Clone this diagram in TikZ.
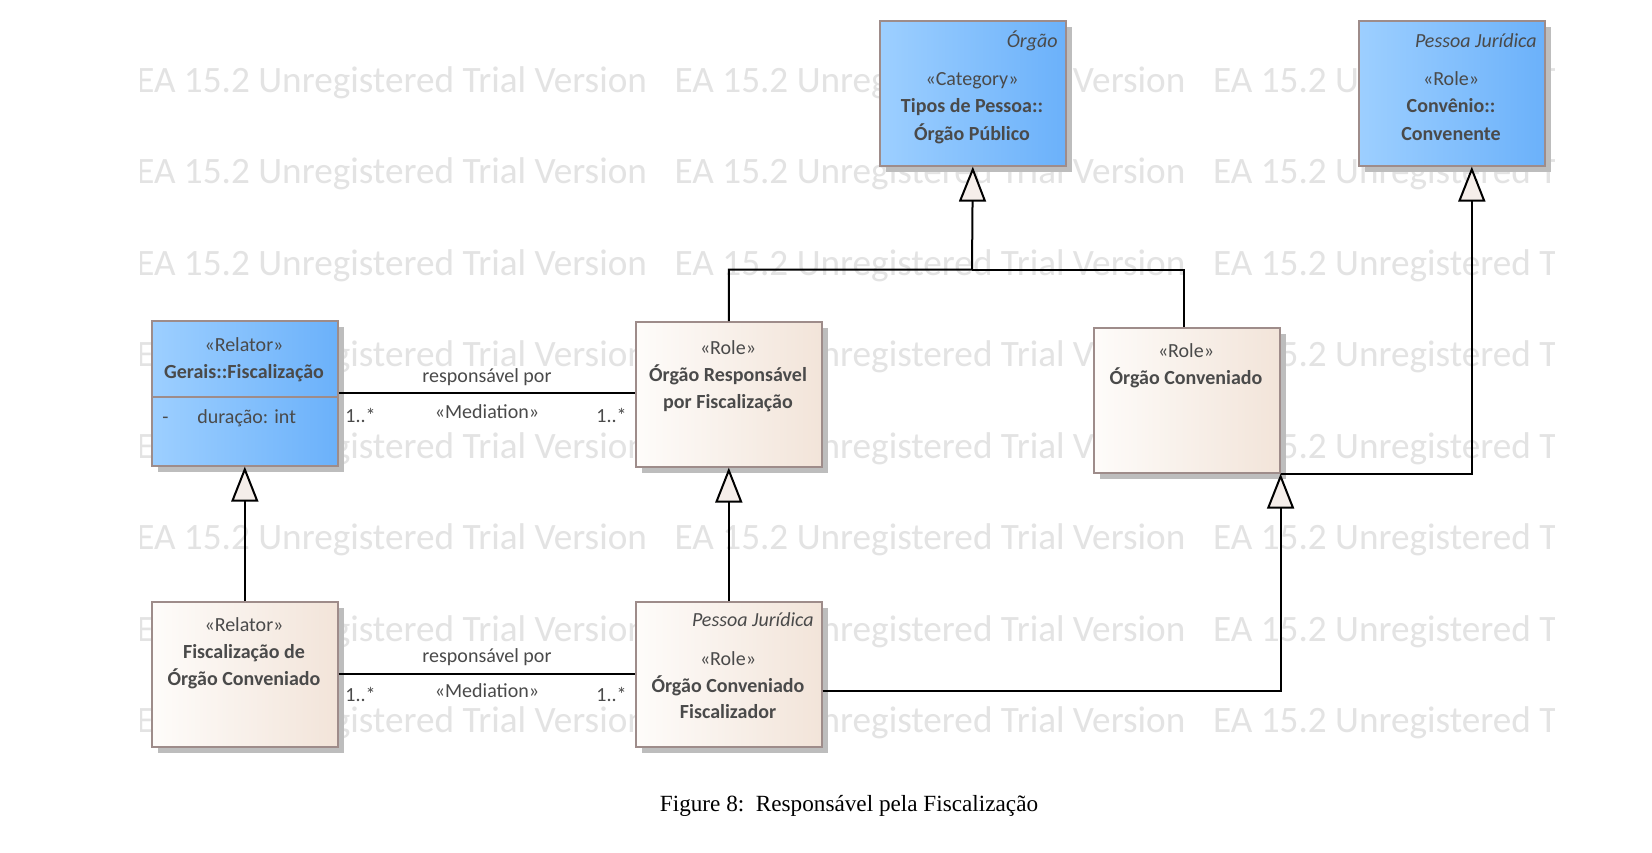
\documentclass[tikz,border=0pt]{standalone}
\usepackage{fontspec}
\setmainfont{Carlito}
\newfontfamily\capfont{Liberation Serif}
\usetikzlibrary{arrows.meta,shadows,calc}
\definecolor{blueL}{HTML}{9DCFFF}
\definecolor{blueR}{HTML}{6BB1FA}
\definecolor{begL}{HTML}{FEFCFA}
\definecolor{begR}{HTML}{F2E4D9}
\definecolor{boxborder}{HTML}{9E8C8A}
\definecolor{wmgray}{HTML}{E3E3E3}
\definecolor{txt}{HTML}{4A4A4A}
\definecolor{tipfill}{HTML}{F5EEEA}
\begin{document}
\begin{tikzpicture}[x=0.5pt,y=-0.5pt,
  box/.style={draw=boxborder, line width=0.8pt, minimum width=93pt, minimum height=72.5pt,
    inner sep=0pt, anchor=north west,
    drop shadow={shadow xshift=3.2pt, shadow yshift=-3.2pt, fill=black!26, opacity=1}},
  bluebox/.style={box, left color=blueL, right color=blueR},
  begebox/.style={box, left color=begL, right color=begR},
  ster/.style={font=\fontsize{10}{12}\selectfont, text=txt, inner sep=0pt, anchor=base},
  nm/.style={font=\fontsize{10}{12}\selectfont\bfseries, text=txt, inner sep=0pt, anchor=base},
  ital/.style={font=\fontsize{10}{12}\selectfont\itshape, text=txt, inner sep=0pt, anchor=base east},
  attr/.style={font=\fontsize{10}{12}\selectfont, text=txt, inner sep=0pt, anchor=base west},
  lbl/.style={font=\fontsize{10}{12}\selectfont, text=txt, inner sep=0pt, anchor=base},
  mlt/.style={font=\fontsize{10}{12}\selectfont, text=txt, inner sep=0pt},
  wm/.style={font=\fontsize{18.6}{20}\selectfont, text=wmgray, inner sep=0pt, anchor=base west},
  assoc/.style={line width=1pt, draw=black},
  gen/.style={line width=1pt, draw=black, -{Triangle[length=17.5pt, width=13.5pt, fill=tipfill]}}
]
\useasboundingbox (0,0) rectangle (1652,852);
\fill[white] (0,0) rectangle (1652,852);

% watermark
\begin{scope}
\clip (140,0) rectangle (1554,852);
\foreach \r in {0,...,7}{
  \foreach \c in {0,1,2}{
    \node[wm] (wm-\r-\c) at ({135.9+538.4*\c},{92+91.5*\r}) {EA 15.2 Unregistered Trial Version};
  }
}
\end{scope}

% boxes
\node[bluebox] (org) at (879,20) {};
\node[bluebox] (conv) at (1358,20) {};
\node[bluebox] (ger) at (151,320) {};
\node[begebox] (resp) at (635,321) {};
\node[begebox] (oconv) at (1093,327) {};
\node[begebox] (fisc) at (151,601) {};
\node[begebox] (fiscal) at (635,601) {};

% box texts
\node[ital] (org-i) at (1058,47) {Órgão};
\node[ster] (org-s) at (972,85) {«Category»};
\node[nm] (org-n1) at (972,112) {Tipos de Pessoa::};
\node[nm] (org-n2) at (972,140) {Órgão Público};

\node[ital] (conv-i) at (1537,47) {Pessoa Jurídica};
\node[ster] (conv-s) at (1451,85) {«Role»};
\node[nm] (conv-n1) at (1451,112) {Convênio::};
\node[nm] (conv-n2) at (1451,140) {Convenente};

\node[ster] (ger-s) at (244,351) {«Relator»};
\node[nm] (ger-n) at (244,378) {Gerais::Fiscalização};
\coordinate (dv) at (0,397);
\draw[boxborder, line width=0.8pt] (ger.west |- dv) -- (ger.east |- dv);
\node[attr] (ger-a1) at (162,423) {-};
\node[attr] (ger-a2) at (197,423) {duração: int};

\node[ster] (resp-s) at (728,354) {«Role»};
\node[nm] (resp-n1) at (728,381) {Órgão Responsável};
\node[nm] (resp-n2) at (728,408) {por Fiscalização};

\node[ster] (oconv-s) at (1186,357) {«Role»};
\node[nm] (oconv-n) at (1186,384) {Órgão Conveniado};

\node[ster] (fisc-s) at (244,631) {«Relator»};
\node[nm] (fisc-n1) at (244,658) {Fiscalização de};
\node[nm] (fisc-n2) at (244,685) {Órgão Conveniado};

\node[ital] (fiscal-i) at (814,626) {Pessoa Jurídica};
\node[ster] (fiscal-s) at (728,665) {«Role»};
\node[nm] (fiscal-n1) at (728,692) {Órgão Conveniado};
\node[nm] (fiscal-n2) at (728,718) {Fiscalizador};

% associations
\draw[assoc] (ger.east) -- (ger.east -| resp.west);
\node[lbl] (a1-name) at (487,382) {responsável por};
\node[lbl] (a1-st) at (487,418) {«Mediation»};
\node[mlt, anchor=base west] (a1-m1) at (345,422) {1..*};
\node[mlt, anchor=base east] (a1-m2) at (627,422) {1..*};

\draw[assoc] (fisc.east) -- (fisc.east -| fiscal.west);
\node[lbl] (a2-name) at (487,662) {responsável por};
\node[lbl] (a2-st) at (487,697) {«Mediation»};
\node[mlt, anchor=base west] (a2-m1) at (345,701) {1..*};
\node[mlt, anchor=base east] (a2-m2) at (627,701) {1..*};

% generalizations
\coordinate (j1) at (972,269.5);
\draw[gen] (resp.north) |- (j1) -- (org.south);
\draw[assoc] ($(oconv.north)+(-3,0)$) |- (j1);
\draw[gen] (oconv.south east) -| ($(conv.south)+(20,0)$);
\draw[gen] ($(fiscal.east)+(0,17)$) -| (oconv.south east);
\draw[gen] (fisc.north) -- (ger.south);
\draw[gen] (fiscal.north) -- (resp.south);

% caption
\node[font=\capfont\fontsize{11.6}{13}\selectfont, text=black, anchor=base, inner sep=0pt] (cap) at (849,811) {Figure 8:\ \ Responsável pela Fiscalização};
\end{tikzpicture}
\end{document}
